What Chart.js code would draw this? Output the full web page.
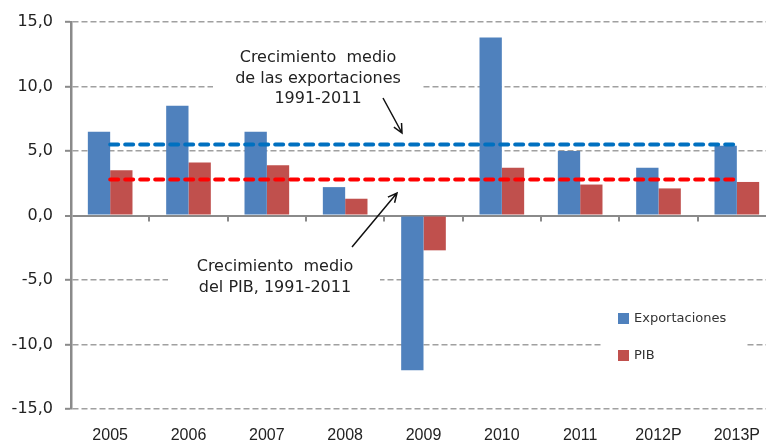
<!DOCTYPE html>
<html>
<head>
<meta charset="utf-8">
<script src="https://cdn.jsdelivr.net/npm/chart.js@4.4.1/dist/chart.umd.min.js"></script>
<style>
  html, body { margin: 0; padding: 0; background: #fff; }
  #wrap { width: 766px; height: 442px; overflow: hidden; position: relative; }
  #chart { display: block; }
</style>
</head>
<body>
<div id="wrap">
  <canvas id="chart" width="780" height="450" style="width:780px;height:450px"></canvas>
</div>
<script>
// data (% growth)
const categories = ['2005', '2006', '2007', '2008', '2009', '2010', '2011', '2012P', '2013P'];
const exportaciones = [6.5, 8.5, 6.5, 2.2, -12.0, 13.8, 5.0, 3.7, 5.4];
const pib = [3.5, 4.1, 3.9, 1.3, -2.7, 3.7, 2.4, 2.1, 2.6];
// average growth 1991-2011, one value per category
const mediaExportaciones = [5.5, 5.5, 5.5, 5.5, 5.5, 5.5, 5.5, 5.5, 5.5];
const mediaPib = [2.8, 2.8, 2.8, 2.8, 2.8, 2.8, 2.8, 2.8, 2.8];
const yTicks = [-15, -10, -5, 0, 5, 10, 15];

const BLUE = '#4F81BD';
const RED = '#C0504D';
const AXIS = '#8a8a8a';

// x axis at zero with small ticks between categories
const zeroAxis = {
    id: 'zeroAxis',
    beforeDatasetsDraw(chart) {
        const { ctx, scales: { x, y } } = chart;
        const y0 = y.getPixelForValue(0);
        ctx.save();
        ctx.strokeStyle = AXIS;
        ctx.lineWidth = 2;
        ctx.beginPath();
        for (let i = 1; i < categories.length; i++) {
            const bx = Math.round((x.getPixelForValue(i - 1) + x.getPixelForValue(i)) / 2);
            ctx.moveTo(bx, y0);
            ctx.lineTo(bx, y0 + 6);
        }
        ctx.stroke();
        ctx.restore();
    }
};

function arrow(ctx, x1, y1, x2, y2) {
    const a = Math.atan2(y2 - y1, x2 - x1);
    const h = 10;
    ctx.beginPath();
    ctx.moveTo(x1, y1);
    ctx.lineTo(x2, y2);
    ctx.moveTo(x2 - h * Math.cos(a - 0.45), y2 - h * Math.sin(a - 0.45));
    ctx.lineTo(x2, y2);
    ctx.lineTo(x2 - h * Math.cos(a + 0.45), y2 - h * Math.sin(a + 0.45));
    ctx.stroke();
}

// text notes (on white boxes), arrows and the legend inside the plot
const notes = {
    id: 'notes',
    afterDraw(chart) {
        const ctx = chart.ctx;
        ctx.save();
        ctx.fillStyle = '#fff';
        ctx.fillRect(213, 44, 210, 68);
        ctx.fillRect(168, 254, 212, 46);
        ctx.fillRect(603, 300, 144, 72);

        ctx.fillStyle = '#222';
        ctx.font = '16px "DejaVu Sans"';
        ctx.textAlign = 'center';
        ctx.textBaseline = 'middle';
        ctx.fillText('Crecimiento  medio', 318, 58);
        ctx.fillText('de las exportaciones', 318, 79);
        ctx.fillText('1991-2011', 318, 99);
        ctx.fillText('Crecimiento  medio', 275, 267);
        ctx.fillText('del PIB, 1991-2011', 275, 288);

        ctx.strokeStyle = '#111';
        ctx.lineWidth = 1.5;
        arrow(ctx, 383, 98, 402, 133);
        arrow(ctx, 352, 247, 397, 193);

        // legend
        ctx.textAlign = 'left';
        ctx.font = '13px "DejaVu Sans"';
        const items = [['Exportaciones', BLUE, 319], ['PIB', RED, 356]];
        items.forEach(([label, color, ly]) => {
            ctx.fillStyle = color;
            ctx.fillRect(618, ly - 6, 11, 11);
            ctx.fillStyle = '#333';
            ctx.fillText(label, 634, ly);
        });
        ctx.restore();
    }
};

new Chart(document.getElementById('chart'), {
    data: {
        labels: categories,
        datasets: [
            {
                type: 'line', label: 'Media exportaciones', data: mediaExportaciones,
                borderColor: '#0070C0', borderWidth: 4, borderDash: [8, 7],
                borderCapStyle: 'round', pointRadius: 0, fill: false, order: 0
            },
            {
                type: 'line', label: 'Media PIB', data: mediaPib,
                borderColor: '#FF0000', borderWidth: 4, borderDash: [8, 7],
                borderCapStyle: 'round', pointRadius: 0, fill: false, order: 0
            },
            {
                type: 'bar', label: 'Exportaciones', data: exportaciones,
                backgroundColor: BLUE, categoryPercentage: 0.57, barPercentage: 1, order: 1
            },
            {
                type: 'bar', label: 'PIB', data: pib,
                backgroundColor: RED, categoryPercentage: 0.57, barPercentage: 1, order: 1
            }
        ]
    },
    options: {
        responsive: false,
        animation: false,
        layout: { padding: { top: 22, right: 4, left: 0, bottom: 0 } },
        plugins: {
            legend: { display: false },
            tooltip: { enabled: false }
        },
        scales: {
            x: {
                offset: true,
                grid: { display: false },
                border: { display: false },
                ticks: {
                    color: '#222', padding: 9, maxRotation: 0, autoSkip: false,
                    font: { family: '"Liberation Sans"', size: 16 }
                },
                afterFit(scale) { scale.height = 41; }
            },
            y: {
                min: -15, max: 15,
                afterBuildTicks(scale) { scale.ticks = yTicks.map(v => ({ value: v })); },
                grid: {
                    color: c => c.tick && c.tick.value === 0 ? AXIS : '#a0a0a0',
                    lineWidth: c => c.tick && c.tick.value === 0 ? 2 : 1.6,
                    tickLength: 6, tickColor: AXIS, tickWidth: 2, tickBorderDash: []
                },
                border: {
                    display: true, color: AXIS, width: 2.5,
                    dash: c => c.tick && c.tick.value === 0 ? [] : [6, 3]
                },
                ticks: {
                    color: '#222', padding: 12,
                    font: { family: '"DejaVu Sans"', size: 16 },
                    callback: v => v.toFixed(1).replace('.', ',')
                },
                afterFit(scale) { scale.width = 71; }
            }
        }
    },
    plugins: [zeroAxis, notes]
});
</script>
</body>
</html>
